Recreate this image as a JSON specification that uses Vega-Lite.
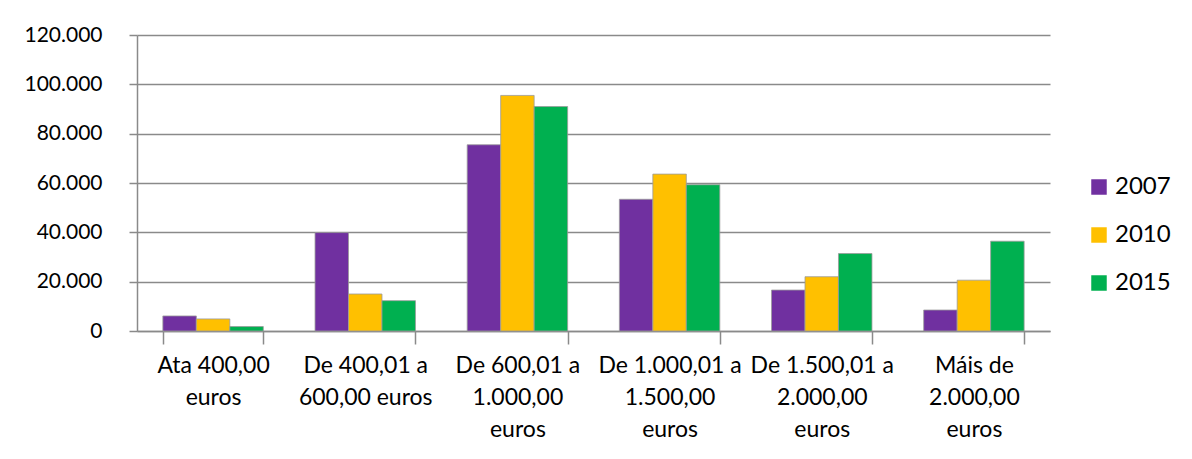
{
  "$schema": "https://vega.github.io/schema/vega-lite/v6.json",
  "width": 913,
  "height": 296,
  "autosize": {"type": "none"},
  "padding": {"left": 137, "top": 35, "right": 142, "bottom": 128},
  "background": "white",
  "data": {
    "values": [
      {"cat": "Ata 400,00|euros", "year": "2007", "value": 6100},
      {"cat": "Ata 400,00|euros", "year": "2010", "value": 4900},
      {"cat": "Ata 400,00|euros", "year": "2015", "value": 1800},
      {"cat": "De 400,01 a|600,00 euros", "year": "2007", "value": 39900},
      {"cat": "De 400,01 a|600,00 euros", "year": "2010", "value": 15000},
      {"cat": "De 400,01 a|600,00 euros", "year": "2015", "value": 12300},
      {"cat": "De 600,01 a|1.000,00|euros", "year": "2007", "value": 75500},
      {"cat": "De 600,01 a|1.000,00|euros", "year": "2010", "value": 95500},
      {"cat": "De 600,01 a|1.000,00|euros", "year": "2015", "value": 91000},
      {"cat": "De 1.000,01 a|1.500,00|euros", "year": "2007", "value": 53400},
      {"cat": "De 1.000,01 a|1.500,00|euros", "year": "2010", "value": 63600},
      {"cat": "De 1.000,01 a|1.500,00|euros", "year": "2015", "value": 59300},
      {"cat": "De 1.500,01 a|2.000,00|euros", "year": "2007", "value": 16600},
      {"cat": "De 1.500,01 a|2.000,00|euros", "year": "2010", "value": 22000},
      {"cat": "De 1.500,01 a|2.000,00|euros", "year": "2015", "value": 31400},
      {"cat": "Máis de|2.000,00|euros", "year": "2007", "value": 8500},
      {"cat": "Máis de|2.000,00|euros", "year": "2010", "value": 20600},
      {"cat": "Máis de|2.000,00|euros", "year": "2015", "value": 36400}
    ]
  },
  "mark": {"type": "bar", "stroke": "#9a9a9a", "strokeWidth": 0.8},
  "encoding": {
    "x": {
      "field": "cat",
      "type": "nominal",
      "sort": ["Ata 400,00|euros", "De 400,01 a|600,00 euros", "De 600,01 a|1.000,00|euros", "De 1.000,01 a|1.500,00|euros", "De 1.500,01 a|2.000,00|euros", "Máis de|2.000,00|euros"],
      "scale": {"paddingInner": 0.34, "paddingOuter": 0.17},
      "axis": {
        "title": null,
        "labelAngle": 0,
        "labelExpr": "split(datum.label, '|')",
        "labelFont": "Lato",
        "labelFontSize": 23,
        "labelColor": "#000000",
        "labelLineHeight": 32,
        "labelPadding": 10,
        "labelBaseline": "top",
        "labelOverlap": false,
        "tickBand": "extent",
        "tickSize": 13,
        "tickColor": "#8a8a8a",
        "tickWidth": 1.5,
        "domainColor": "#8a8a8a",
        "domainWidth": 1.5,
        "grid": false
      }
    },
    "xOffset": {"field": "year", "type": "nominal", "scale": {"paddingInner": 0, "paddingOuter": 0}},
    "y": {
      "field": "value",
      "type": "quantitative",
      "scale": {"domain": [0, 120000]},
      "axis": {
        "title": null,
        "values": [0, 20000, 40000, 60000, 80000, 100000, 120000],
        "format": ",d",
        "labelFont": "Lato",
        "labelFontSize": 21,
        "labelColor": "#000000",
        "labelPadding": 27,
        "tickSize": 8,
        "tickColor": "#8a8a8a",
        "tickWidth": 1.5,
        "domainColor": "#8a8a8a",
        "domainWidth": 1.5,
        "grid": true,
        "gridColor": "#8a8a8a",
        "gridWidth": 1.5
      }
    },
    "color": {
      "field": "year",
      "type": "nominal",
      "scale": {"domain": ["2007", "2010", "2015"], "range": ["#7030A0", "#FFC000", "#00B050"]},
      "legend": {
        "title": null,
        "orient": "none",
        "legendX": 950,
        "legendY": 140,
        "symbolType": "square",
        "symbolSize": 240,
        "symbolStrokeWidth": 0,
        "labelFont": "Lato",
        "labelFontSize": 24,
        "labelColor": "#000000",
        "labelOffset": 4,
        "rowPadding": 24
      }
    }
  },
  "config": {
    "locale": {
      "number": {"decimal": ",", "thousands": ".", "grouping": [3], "currency": ["", " €"]}
    },
    "view": {"stroke": null}
  }
}
